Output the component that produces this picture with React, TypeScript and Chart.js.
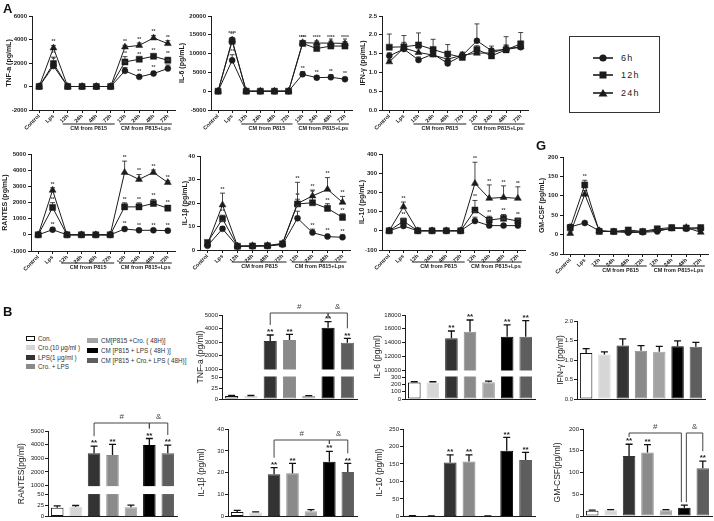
import React, { useEffect, useRef } from 'react';
import { Chart, registerables } from 'chart.js';

Chart.register(...registerables);

const FONT = "'Liberation Sans', Arial, Helvetica, sans-serif";
const INK = '#1c1c1c';

/* ================= Panel A : time course ================= */
const timeLabels = ['Control', 'Lps', '12h', '24h', '48h', '72h', '12h', '24h', '48h', '72h'];
const seriesNames = ['6h', '12h', '24h'];
const cmGroups = ['CM from P815', 'CM from P815+Lps'];

// TNF-a (pg/mL)
const tnfLineTicks = [-2000, 0, 2000, 4000, 6000];
const tnfLine6h = [0, 1750, 0, 0, 0, 0, 1330, 820, 1100, 1530];
const tnfLine12h = [0, 1950, 0, 0, 0, 0, 2090, 2320, 2570, 2230];
const tnfLine24h = [0, 3280, 0, 0, 0, 0, 3360, 3500, 4130, 3650];
const tnfLineErr6h = [0, 250, 0, 0, 0, 0, 280, 120, 180, 300];
const tnfLineErr12h = [0, 550, 0, 0, 0, 0, 450, 100, 150, 250];
const tnfLineErr24h = [0, 200, 0, 0, 0, 0, 150, 200, 200, 250];

// IL-6 (pg/mL)
const il6LineTicks = [-5000, 0, 5000, 10000, 15000, 20000];
const il6Line6h = [0, 8200, 0, 0, 0, 0, 4500, 3600, 3700, 3200];
const il6Line12h = [0, 13300, 0, 0, 0, 0, 12700, 11350, 12000, 12000];
const il6Line24h = [0, 13600, 0, 0, 0, 0, 12900, 12800, 12800, 12700];
const il6LineErr6h = [0, 1500, 0, 0, 0, 0, 700, 500, 700, 500];
const il6LineErr12h = [0, 900, 0, 0, 0, 0, 600, 700, 600, 600];
const il6LineErr24h = [0, 700, 0, 0, 0, 0, 500, 500, 500, 500];

// IFN-γ (pg/mL)
const ifnLineTicks = [0, 0.5, 1, 1.5, 2, 2.5];
const ifnLine6h = [1.44, 1.62, 1.33, 1.49, 1.24, 1.45, 1.84, 1.58, 1.61, 1.67];
const ifnLine12h = [1.67, 1.68, 1.73, 1.61, 1.49, 1.4, 1.61, 1.44, 1.6, 1.76];
const ifnLine24h = [1.28, 1.65, 1.53, 1.46, 1.35, 1.46, 1.51, 1.52, 1.63, 1.68];
const ifnLineErr6h = [0.08, 0.1, 0.08, 0.08, 0.08, 0.06, 0.45, 0.12, 0.1, 0.1];
const ifnLineErr12h = [0.35, 0.3, 0.32, 0.27, 0.25, 0.12, 0.1, 0.08, 0.35, 0.3];
const ifnLineErr24h = [0.05, 0.15, 0.1, 0.1, 0.08, 0.08, 0.1, 0.1, 0.1, 0.1];

// RANTES (pg/mL)
const rantesLineTicks = [-1000, 0, 1000, 2000, 3000, 4000, 5000];
const rantesLine6h = [0, 320, 0, 0, 0, 0, 360, 280, 280, 260];
const rantesLine12h = [0, 1690, 0, 0, 0, 0, 1730, 1730, 1940, 1650];
const rantesLine24h = [0, 2760, 0, 0, 0, 0, 3860, 3430, 3860, 3240];
const rantesLineErr6h = [0, 100, 0, 0, 0, 0, 100, 80, 80, 80];
const rantesLineErr12h = [0, 300, 0, 0, 0, 0, 250, 250, 250, 150];
const rantesLineErr24h = [0, 150, 0, 0, 0, 0, 700, 300, 150, 100];

// IL-1β (pg/mL)
const il1bLineTicks = [0, 10, 20, 30, 40];
const il1bLine6h = [1.8, 9, 1.5, 1.6, 1.7, 2.3, 13.5, 7.4, 5.7, 5.4];
const il1bLine12h = [3.2, 13.3, 1.6, 1.7, 1.8, 2.6, 19.6, 20.1, 17.7, 13.9];
const il1bLine24h = [2.5, 19.2, 1.7, 1.8, 1.9, 2.8, 19.8, 23, 25.8, 20.3];
const il1bLineErr6h = [0.3, 1, 0.2, 0.2, 0.2, 0.3, 3, 1.5, 1, 1];
const il1bLineErr12h = [0.5, 1.5, 0.2, 0.2, 0.2, 0.3, 2, 3, 2, 1.5];
const il1bLineErr24h = [0.5, 5, 0.2, 0.2, 0.2, 0.3, 9, 2.5, 5, 2.5];

// IL-10 (pg/mL)
const il10LineTicks = [-100, 0, 100, 200, 300, 400];
const il10Line6h = [0, 25, 0, 0, 0, 0, 51, 27, 27, 27];
const il10Line12h = [0, 50, 0, 0, 0, 0, 108, 56, 65, 51];
const il10Line24h = [0, 125, 0, 0, 0, 0, 247, 169, 174, 169];
const il10LineErr6h = [0, 10, 0, 0, 0, 0, 20, 8, 8, 8];
const il10LineErr12h = [0, 15, 0, 0, 0, 0, 50, 20, 20, 15];
const il10LineErr24h = [0, 25, 0, 0, 0, 0, 110, 70, 60, 60];

// GM-CSF (pg/mL)
const gmLineTicks = [-50, 0, 50, 100, 150, 200];
const gmLine6h = [20, 30, 10, 8, 5, 6, 8, 17, 15, 15];
const gmLine12h = [18, 128, 8, 8, 12, 8, 15, 18, 17, 18];
const gmLine24h = [3, 104, 10, 7, 8, 7, 12, 15, 18, 6];
const gmLineErr6h = [4, 3, 3, 3, 5, 4, 5, 5, 5, 5];
const gmLineErr12h = [5, 12, 3, 3, 4, 4, 5, 5, 5, 5];
const gmLineErr24h = [4, 10, 3, 3, 3, 3, 5, 5, 5, 5];

/* ================= Panel B : 48h conditioned medium (bar charts) ================= */
const barGroups = [
  'Con.',
  'Cro.(10 μg/ml )',
  'LPS(1 μg/ml )',
  'Cro. + LPS',
  'CM[P815 +Cro. ( 48H)]',
  'CM [P815 + LPS ( 48H )]',
  'CM [P815 + Cro.+ LPS ( 48H)]',
];
const barFill = ['#ffffff', '#d6d6d6', '#333333', '#8a8a8a', '#a3a3a3', '#000000', '#5e5e5e'];
const barEdge = ['#111111', '#d6d6d6', '#333333', '#8a8a8a', '#a3a3a3', '#000000', '#5e5e5e'];

const tnfBar = [7, 7, 3070, 3150, 7, 4060, 2950];
const tnfBarErr = [1, 1, 450, 420, 0.5, 445, 320];
const tnfBarTopTicks = [1000, 2000, 3000, 4000, 5000];
const tnfBarBotTicks = [0, 25, 50];

const il6Bar = [225, 225, 14610, 15570, 230, 14850, 14850];
const il6BarErr = [10, 10, 1060, 1700, 15, 1700, 2320];
const il6BarTopTicks = [10000, 12000, 14000, 16000, 18000];
const il6BarBotTicks = [0, 100, 200, 300];

const ifnBar = [1.18, 1.14, 1.37, 1.24, 1.21, 1.35, 1.34];
const ifnBarErr = [0.11, 0.07, 0.17, 0.13, 0.14, 0.14, 0.11];
const ifnBarTicks = [0, 0.5, 1, 1.5, 2];

const rantesBar = [20, 22, 3370, 3240, 21, 3970, 3370];
const rantesBarErr = [4, 3, 520, 780, 5, 480, 600];
const rantesBarTopTicks = [1000, 2000, 3000, 4000, 5000];
const rantesBarBotTicks = [0, 25, 50];

const il1bBar = [2, 1.8, 19.3, 19.8, 2.3, 25, 20.3];
const il1bBarErr = [0.8, 0.3, 3, 4.5, 0.8, 4.8, 4];
const il1bBarTicks = [0, 10, 20, 30, 40];

const il10Bar = [2, 1, 154, 157, 1, 188, 161];
const il10BarErr = [0.5, 0.5, 22, 19, 0.5, 38, 22];
const il10BarTicks = [0, 50, 100, 150, 200, 250];

const gmBar = [12, 13, 138, 146, 13, 19, 110];
const gmBarErr = [1.5, 1.5, 27, 18, 1.5, 6, 16];
const gmBarTicks = [0, 50, 100, 150, 200];

/* ================= types ================= */
type Box = { left: number; top: number; width: number; height: number };

type LinePanel = {
  id: string;
  title: string;
  box: Box;
  yW: number;
  padTop: number;
  padBottom: number;
  padRight: number;
  groupDy: number;
  ticks: number[];
  decimals: number;
  series: number[][];
  errs: number[][];
  stars: string[];
  starIdx: number[];
};

type Bracket = { from: number; to: number; label: string; dxa?: number; dxb?: number };
type Broken = { topTicks: number[]; botTicks: number[]; topPx: number; botPx: number; gap: number };

type BarPanel = {
  id: string;
  title: string;
  titleX: number;
  box: Box;
  yW: number;
  padTop: number;
  padBottom: number;
  padRight: number;
  values: number[];
  errs: number[];
  ticks?: number[];
  decimals: number;
  broken?: Broken;
  stars: number[];
  brackets: Bracket[];
  bracketDy: number;
};

/* ================= panel layout ================= */
const starsAll = [1, 6, 7, 8, 9];
const X_AXIS_H = 22;

const linePanels: LinePanel[] = [
  {
    id: 'tnf', title: 'TNF-a (pg/mL)', box: { left: 5, top: 0, width: 175, height: 136 }, yW: 27,
    padTop: 16, padBottom: 4, padRight: 5, groupDy: 14, ticks: tnfLineTicks, decimals: 0,
    series: [tnfLine6h, tnfLine12h, tnfLine24h], errs: [tnfLineErr6h, tnfLineErr12h, tnfLineErr24h],
    stars: ['**', '**', '**'], starIdx: starsAll,
  },
  {
    id: 'il6', title: 'IL-6 (pg/mL)', box: { left: 178, top: 0, width: 179, height: 136 }, yW: 33,
    padTop: 16, padBottom: 4, padRight: 5, groupDy: 14, ticks: il6LineTicks, decimals: 0,
    series: [il6Line6h, il6Line12h, il6Line24h], errs: [il6LineErr6h, il6LineErr12h, il6LineErr24h],
    stars: ['**', '**', '****'], starIdx: starsAll,
  },
  {
    id: 'ifn', title: 'IFN-γ (pg/mL)', box: { left: 359, top: 0, width: 174, height: 136 }, yW: 23,
    padTop: 16, padBottom: 4, padRight: 5, groupDy: 14, ticks: ifnLineTicks, decimals: 1,
    series: [ifnLine6h, ifnLine12h, ifnLine24h], errs: [ifnLineErr6h, ifnLineErr12h, ifnLineErr24h],
    stars: ['', '', ''], starIdx: [],
  },
  {
    id: 'rantes', title: 'RANTES (pg/mL)', box: { left: 1, top: 140, width: 179, height: 136 }, yW: 30,
    padTop: 14, padBottom: 3, padRight: 5, groupDy: 12, ticks: rantesLineTicks, decimals: 0,
    series: [rantesLine6h, rantesLine12h, rantesLine24h], errs: [rantesLineErr6h, rantesLineErr12h, rantesLineErr24h],
    stars: ['**', '**', '**'], starIdx: starsAll,
  },
  {
    id: 'il1b', title: 'IL-1β (pg/mL)', box: { left: 181, top: 140, width: 174, height: 136 }, yW: 19,
    padTop: 16, padBottom: 4, padRight: 5, groupDy: 12, ticks: il1bLineTicks, decimals: 0,
    series: [il1bLine6h, il1bLine12h, il1bLine24h], errs: [il1bLineErr6h, il1bLineErr12h, il1bLineErr24h],
    stars: ['**', '**', '**'], starIdx: starsAll,
  },
  {
    id: 'il10', title: 'IL-10 (pg/mL)', box: { left: 358, top: 140, width: 172, height: 136 }, yW: 24,
    padTop: 14, padBottom: 4, padRight: 5, groupDy: 12, ticks: il10LineTicks, decimals: 0,
    series: [il10Line6h, il10Line12h, il10Line24h], errs: [il10LineErr6h, il10LineErr12h, il10LineErr24h],
    stars: ['**', '**', '**'], starIdx: starsAll,
  },
  {
    id: 'gm', title: 'GM-CSF (pg/mL)', box: { left: 538, top: 140, width: 176, height: 136 }, yW: 25,
    padTop: 17, padBottom: 0, padRight: 6, groupDy: 12, ticks: gmLineTicks, decimals: 0,
    series: [gmLine6h, gmLine12h, gmLine24h], errs: [gmLineErr6h, gmLineErr12h, gmLineErr24h],
    stars: ['', '**', ''], starIdx: [1],
  },
];

const stdBrackets: Bracket[] = [
  { from: 2, to: 5, label: '#' },
  { from: 5, to: 6, label: '&' },
];

const barPanels: BarPanel[] = [
  {
    id: 'tnfB', title: 'TNF-a (pg/ml)', titleX: 201, box: { left: 195, top: 296, width: 167, height: 108 }, yW: 27,
    padTop: 19, padBottom: 5, padRight: 5, values: tnfBar, errs: tnfBarErr, decimals: 0,
    broken: { topTicks: tnfBarTopTicks, botTicks: tnfBarBotTicks, topPx: 54, botPx: 22, gap: 8 },
    stars: [2, 3, 5, 6], brackets: stdBrackets, bracketDy: -2,
  },
  {
    id: 'il6B', title: 'IL-6 (pg/ml)', titleX: 378, box: { left: 370, top: 296, width: 170, height: 108 }, yW: 35,
    padTop: 19, padBottom: 5, padRight: 5, values: il6Bar, errs: il6BarErr, decimals: 0,
    broken: { topTicks: il6BarTopTicks, botTicks: il6BarBotTicks, topPx: 55, botPx: 22, gap: 7 },
    stars: [2, 3, 5, 6], brackets: [], bracketDy: 0,
  },
  {
    id: 'ifnB', title: 'IFN-γ (pg/ml)', titleX: 561, box: { left: 555, top: 296, width: 159, height: 108 }, yW: 22,
    padTop: 25, padBottom: 5, padRight: 9, values: ifnBar, errs: ifnBarErr, ticks: ifnBarTicks, decimals: 1,
    stars: [], brackets: [], bracketDy: 0,
  },
  {
    id: 'rantesB', title: 'RANTES(pg/ml)', titleX: 22, box: { left: 12, top: 410, width: 170, height: 111 }, yW: 36,
    padTop: 21, padBottom: 4, padRight: 5, values: rantesBar, errs: rantesBarErr, decimals: 0,
    broken: { topTicks: rantesBarTopTicks, botTicks: rantesBarBotTicks, topPx: 55, botPx: 22, gap: 9 },
    stars: [2, 3, 5, 6], brackets: stdBrackets, bracketDy: -8,
  },
  {
    id: 'il1bB', title: 'IL-1β (pg/ml)', titleX: 202, box: { left: 195, top: 410, width: 167, height: 111 }, yW: 33,
    padTop: 19, padBottom: 4, padRight: 5, values: il1bBar, errs: il1bBarErr, ticks: il1bBarTicks, decimals: 0,
    stars: [2, 3, 5, 6], brackets: stdBrackets, bracketDy: 11,
  },
  {
    id: 'il10B', title: 'IL-10 (pg/ml)', titleX: 380, box: { left: 372, top: 410, width: 168, height: 111 }, yW: 31,
    padTop: 19, padBottom: 4, padRight: 5, values: il10Bar, errs: il10BarErr, ticks: il10BarTicks, decimals: 0,
    stars: [2, 3, 5, 6], brackets: [], bracketDy: 0,
  },
  {
    id: 'gmB', title: 'GM-CSF(pg/ml)', titleX: 558, box: { left: 550, top: 410, width: 164, height: 111 }, yW: 33,
    padTop: 19, padBottom: 5, padRight: 2, values: gmBar, errs: gmBarErr, ticks: gmBarTicks, decimals: 0,
    stars: [2, 3, 6],
    brackets: [
      { from: 2, to: 5, label: '#', dxb: -3 },
      { from: 5, to: 6, label: '&', dxa: 2 },
    ],
    bracketDy: 4,
  },
];

/* ================= chart builders ================= */
const axisGrid = { display: true, drawOnChartArea: false, drawTicks: true, tickLength: 3, color: INK, lineWidth: 1 };
const axisBorder = { display: true, color: INK, width: 1 };

function linePlugin(p: LinePanel) {
  return {
    id: 'lineExtras',
    beforeDatasetsDraw(chart: any) {
      const { ctx } = chart;
      const xs = chart.scales.x;
      const ys = chart.scales.y;
      ctx.save();
      ctx.strokeStyle = INK;
      ctx.lineWidth = 0.8;
      p.series.forEach((vals, k) => {
        vals.forEach((v, i) => {
          const e = p.errs[k][i];
          if (!e) return;
          const x = xs.getPixelForValue(i);
          const y0 = ys.getPixelForValue(v);
          const y1 = ys.getPixelForValue(v + e);
          ctx.beginPath();
          ctx.moveTo(x, y0);
          ctx.lineTo(x, y1);
          ctx.moveTo(x - 2.5, y1);
          ctx.lineTo(x + 2.5, y1);
          ctx.stroke();
        });
      });
      ctx.restore();
    },
    afterDatasetsDraw(chart: any) {
      const { ctx } = chart;
      const xs = chart.scales.x;
      const ys = chart.scales.y;
      ctx.save();
      ctx.fillStyle = '#444';
      ctx.font = `bold 5px ${FONT}`;
      ctx.textAlign = 'center';
      ctx.textBaseline = 'bottom';
      p.series.forEach((vals, k) => {
        if (!p.stars[k]) return;
        p.starIdx.forEach((i) => {
          const x = xs.getPixelForValue(i);
          const y1 = ys.getPixelForValue(vals[i] + p.errs[k][i]);
          ctx.fillText(p.stars[k], x, y1 - 1);
        });
      });
      ctx.restore();
    },
    afterDraw(chart: any) {
      const { ctx, chartArea } = chart;
      const xs = chart.scales.x;
      const ranges = [[2, 5], [6, 9]];
      ctx.save();
      ctx.strokeStyle = INK;
      ctx.fillStyle = INK;
      ctx.lineWidth = 1;
      ctx.font = `bold 5.5px ${FONT}`;
      ctx.textAlign = 'center';
      ctx.textBaseline = 'middle';
      ranges.forEach(([a, b], g) => {
        const x1 = xs.getPixelForValue(a) - 5;
        const x2 = xs.getPixelForValue(b) + 4;
        const y = chartArea.bottom + p.groupDy;
        ctx.beginPath();
        ctx.moveTo(x1, y);
        ctx.lineTo(x2, y);
        ctx.stroke();
        ctx.fillText(cmGroups[g], (x1 + x2) / 2, y + 4.5);
      });
      ctx.restore();
    },
  };
}

function lineConfig(p: LinePanel): any {
  const shapes = ['circle', 'rect', 'triangle'];
  const radii = [3, 4.3, 4];
  return {
    type: 'line',
    data: {
      labels: timeLabels,
      datasets: p.series.map((vals, k) => ({
        label: seriesNames[k],
        data: vals,
        borderColor: INK,
        backgroundColor: INK,
        borderWidth: 1,
        pointStyle: shapes[k],
        pointRadius: radii[k],
        pointBorderWidth: 0.5,
        pointBackgroundColor: INK,
        pointBorderColor: INK,
        tension: 0,
        fill: false,
      })),
    },
    options: {
      animation: false,
      responsive: false,
      events: [],
      layout: { padding: { left: 0, right: p.padRight, top: p.padTop, bottom: p.padBottom } },
      plugins: { legend: { display: false }, tooltip: { enabled: false } },
      scales: {
        x: {
          type: 'category',
          offset: true,
          grid: axisGrid,
          border: axisBorder,
          ticks: {
            autoSkip: false, maxRotation: 45, minRotation: 45, padding: 0, color: INK,
            font: { family: FONT, size: 5.5, weight: 'bold' },
          },
          afterFit: (s: any) => { s.height = X_AXIS_H; },
        },
        y: {
          type: 'linear',
          min: p.ticks[0],
          max: p.ticks[p.ticks.length - 1],
          afterBuildTicks: (s: any) => { s.ticks = p.ticks.map((v) => ({ value: v })); },
          grid: axisGrid,
          border: axisBorder,
          ticks: {
            padding: 2, color: INK, font: { family: FONT, size: 6, weight: 'bold' },
            callback: (v: any) => Number(v).toFixed(p.decimals),
          },
          title: {
            display: true, text: p.title, padding: 0, color: INK,
            font: { family: FONT, size: 7, weight: 'bold' },
          },
          afterFit: (s: any) => { s.width = p.yW; },
        },
      },
    },
    plugins: [linePlugin(p)],
  };
}

function barPlugin(p: BarPanel) {
  return {
    id: 'barExtras',
    afterDatasetsDraw(chart: any) {
      const { ctx, chartArea: area } = chart;
      const xs = chart.scales.x;
      const b = p.broken;
      const scaleFor = (v: number) => (b ? (v > b.topTicks[0] ? chart.scales.yTop : chart.scales.yBot) : chart.scales.y);
      ctx.save();
      if (b) {
        const y1 = chart.scales.yTop.getPixelForValue(b.topTicks[0]);
        const y2 = chart.scales.yBot.getPixelForValue(b.botTicks[b.botTicks.length - 1]);
        ctx.fillStyle = '#ffffff';
        ctx.fillRect(area.left + 1, y1 + 0.5, area.right - area.left, y2 - y1 - 1);
      }
      const topPix = (i: number) => scaleFor(p.values[i]).getPixelForValue(p.values[i] + p.errs[i]);
      // error bars
      ctx.strokeStyle = '#111';
      ctx.lineWidth = 1.3;
      p.values.forEach((v, i) => {
        const e = p.errs[i];
        if (!e) return;
        const s = scaleFor(v);
        const x = xs.getPixelForValue(i);
        const y0 = s.getPixelForValue(v);
        const y1 = s.getPixelForValue(v + e);
        ctx.beginPath();
        ctx.moveTo(x, y0);
        ctx.lineTo(x, y1);
        ctx.moveTo(x - 3.5, y1);
        ctx.lineTo(x + 3.5, y1);
        ctx.stroke();
      });
      // significance stars
      ctx.fillStyle = '#222';
      ctx.font = `bold 8px ${FONT}`;
      ctx.textAlign = 'center';
      ctx.textBaseline = 'bottom';
      p.stars.forEach((i) => {
        ctx.fillText('**', xs.getPixelForValue(i), topPix(i) + 1);
      });
      // brackets
      ctx.strokeStyle = '#444';
      ctx.lineWidth = 1;
      ctx.font = `8px ${FONT}`;
      ctx.fillStyle = '#444';
      const yl = area.top + p.bracketDy;
      const dropEnd = (i: number) => Math.max(yl + 4, topPix(i) - (p.stars.includes(i) ? 10 : 3));
      p.brackets.forEach((br) => {
        const xa = xs.getPixelForValue(br.from) + (br.dxa || 0);
        const xb = xs.getPixelForValue(br.to) + (br.dxb || 0);
        ctx.beginPath();
        ctx.moveTo(xa, dropEnd(br.from));
        ctx.lineTo(xa, yl);
        ctx.lineTo(xb, yl);
        ctx.lineTo(xb, dropEnd(br.to));
        ctx.stroke();
        ctx.fillText(br.label, (xa + xb) / 2, yl - 2);
      });
      // axis title (titleX is given in page coordinates)
      ctx.fillStyle = '#222';
      ctx.font = `8.5px ${FONT}`;
      ctx.textAlign = 'center';
      ctx.textBaseline = 'middle';
      ctx.translate(p.titleX - p.box.left, (area.top + area.bottom) / 2);
      ctx.rotate(-Math.PI / 2);
      ctx.fillText(p.title, 0, 0);
      ctx.restore();
    },
  };
}

function barConfig(p: BarPanel): any {
  const common = {
    backgroundColor: barFill,
    borderColor: barEdge,
    borderWidth: 1,
    barPercentage: 0.68,
    categoryPercentage: 1,
    grouped: false,
    borderSkipped: false,
  };
  const yBase = {
    type: 'linear',
    position: 'left',
    grid: axisGrid,
    border: axisBorder,
    ticks: {
      padding: 1, color: '#222', autoSkip: false, font: { family: FONT, size: 6 },
      callback: (v: any) => Number(v).toFixed(p.decimals),
    },
    afterFit: (s: any) => { s.width = p.yW; },
  };
  let datasets: any[];
  let yScales: any;
  if (p.broken) {
    const b = p.broken;
    const topLo = b.topTicks[0];
    const topHi = b.topTicks[b.topTicks.length - 1];
    const botHi = b.botTicks[b.botTicks.length - 1];
    const half = b.gap / 2;
    const topMin = topLo - ((topHi - topLo) * half) / b.topPx;
    const botMax = botHi + (botHi * half) / b.botPx;
    datasets = [
      { ...common, label: 'upper', yAxisID: 'yTop', data: p.values.map((v) => (v > topLo ? [topMin, v] : null)) },
      { ...common, label: 'lower', yAxisID: 'yBot', data: p.values.map((v) => Math.min(v, botMax)) },
    ];
    yScales = {
      yBot: {
        ...yBase, min: 0, max: botMax, stack: 'brk', stackWeight: b.botPx + half, weight: 1,
        afterBuildTicks: (s: any) => { s.ticks = b.botTicks.map((v) => ({ value: v })); },
      },
      yTop: {
        ...yBase, min: topMin, max: topHi, stack: 'brk', stackWeight: b.topPx + half, weight: 2,
        afterBuildTicks: (s: any) => { s.ticks = b.topTicks.map((v) => ({ value: v })); },
      },
    };
  } else {
    const t = p.ticks as number[];
    datasets = [{ ...common, label: 'value', yAxisID: 'y', data: p.values }];
    yScales = {
      y: {
        ...yBase, min: t[0], max: t[t.length - 1],
        afterBuildTicks: (s: any) => { s.ticks = t.map((v) => ({ value: v })); },
      },
    };
  }
  return {
    type: 'bar',
    data: { labels: barGroups, datasets },
    options: {
      animation: false,
      responsive: false,
      events: [],
      layout: { padding: { left: 0, right: p.padRight, top: p.padTop, bottom: p.padBottom } },
      plugins: { legend: { display: false }, tooltip: { enabled: false } },
      scales: {
        x: {
          type: 'category',
          grid: { display: false },
          border: axisBorder,
          ticks: { display: false },
          afterFit: (s: any) => { s.height = 0; },
        },
        ...yScales,
      },
    },
    plugins: [barPlugin(p)],
  };
}

/* ================= components ================= */
function ChartCanvas({ box, build }: { box: Box; build: () => any }) {
  const ref = useRef<HTMLCanvasElement | null>(null);
  useEffect(() => {
    const chart = new Chart(ref.current as HTMLCanvasElement, build());
    return () => chart.destroy();
  }, []);
  return (
    <canvas
      ref={ref}
      width={box.width}
      height={box.height}
      style={{ position: 'absolute', left: box.left, top: box.top, width: box.width, height: box.height }}
    />
  );
}

function Marker({ shape }: { shape: string }) {
  return (
    <svg width={22} height={10} style={{ display: 'block' }}>
      <line x1={1} y1={5} x2={21} y2={5} stroke={INK} strokeWidth={1.6} />
      {shape === 'circle' && <circle cx={11} cy={5} r={3.6} fill={INK} />}
      {shape === 'rect' && <rect x={7.5} y={1.5} width={7} height={7} fill={INK} />}
      {shape === 'triangle' && <polygon points="11,1 15.5,8.5 6.5,8.5" fill={INK} />}
    </svg>
  );
}

function TimeLegend() {
  const shapes = ['circle', 'rect', 'triangle'];
  const rowsY = [16, 33, 51];
  return (
    <div
      style={{
        position: 'absolute', left: 569, top: 36, width: 91, height: 77,
        border: '1.5px solid #333', boxSizing: 'border-box',
      }}
    >
      {seriesNames.map((name, k) => (
        <div key={name} style={{ position: 'absolute', left: 22, top: rowsY[k], display: 'flex', alignItems: 'center' }}>
          <Marker shape={shapes[k]} />
          <span style={{ marginLeft: 7, font: `9px ${FONT}`, letterSpacing: 1.2, color: '#222' }}>{name}</span>
        </div>
      ))}
    </div>
  );
}

function GroupLegend() {
  const col1 = [0, 1, 2, 3];
  const col2 = [4, 5, 6];
  const item = (i: number, x: number, y: number, sw: number) => (
    <div key={i} style={{ position: 'absolute', left: x, top: y - 5, display: 'flex', alignItems: 'center', height: 10 }}>
      <div
        style={{
          width: sw, height: 5, background: barFill[i], boxSizing: 'border-box', flex: 'none',
          border: i === 0 ? '1.3px solid #111' : 'none',
        }}
      />
      <span style={{ marginLeft: 3, font: `6.3px ${FONT}`, color: '#333', whiteSpace: 'nowrap' }}>{barGroups[i]}</span>
    </div>
  );
  return (
    <>
      {col1.map((i, r) => item(i, 26, 338 + r * 9.6, 9))}
      {col2.map((i, r) => item(i, 87, 340 + r * 10, 11))}
    </>
  );
}

const letterStyle: React.CSSProperties = {
  position: 'absolute', font: `bold 13px ${FONT}`, color: '#111', lineHeight: '13px',
};

export default function App() {
  return (
    <div
      style={{
        position: 'absolute', left: 0, top: 0, width: 714, height: 521,
        background: '#ffffff', overflow: 'hidden',
      }}
    >
      {linePanels.map((p) => (
        <ChartCanvas key={p.id} box={p.box} build={() => lineConfig(p)} />
      ))}
      {barPanels.map((p) => (
        <ChartCanvas key={p.id} box={p.box} build={() => barConfig(p)} />
      ))}
      <TimeLegend />
      <GroupLegend />
      <div style={{ ...letterStyle, left: 3, top: 2 }}>A</div>
      <div style={{ ...letterStyle, left: 3, top: 305 }}>B</div>
      <div style={{ ...letterStyle, left: 536, top: 139 }}>G</div>
    </div>
  );
}
